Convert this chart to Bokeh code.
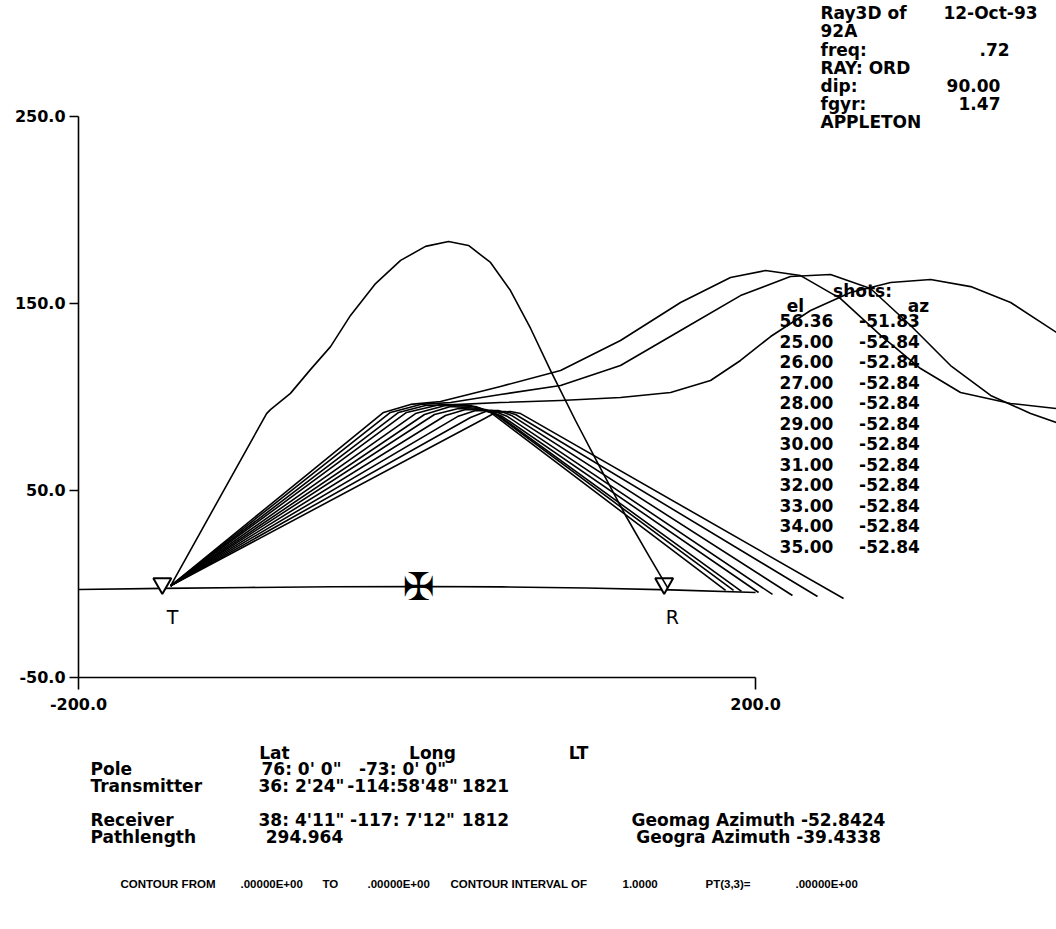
from bokeh.plotting import figure
from bokeh.models import LinearAxis, FixedTicker, PrintfTickFormatter, Range1d
from bokeh.core.properties import value
from bokeh.embed import file_html
from bokeh.resources import INLINE

# ---------------- data: ground range (km) and height (km) ----------------
ground_x = [-200, -150, -100, -50, 0, 50, 100, 150, 200]
ground_y = [-3.0, -2.4, -1.9, -1.5, -1.4, -1.6, -2.2, -3.2, -4.6]

# high-angle ray (el 56.36)
ray_5636_x = [-145.6, -88.9, -86.6, -74.8, -63.0, -51.1, -39.3, -24.5,
              -9.7, 5.0, 18.6, 30.4, 43.4, 55.2, 67.1, 78.9, 93.6, 108.4, 123.2, 136.8, 148.0]
ray_5636_y = [-1.0, 91.1, 93.2, 101.9, 114.6, 126.9, 143.6, 160.6,
              173.0, 180.5, 183.1, 181.0, 171.9, 156.9, 136.6, 114.1, 87.4, 61.8, 36.6, 15.3, -2.0]

# rays that return to ground (el 25 .. 32)
ray_25_x = [-145.6, 39.9, 46.4, 55.2, 61.2, 252.0]
ray_25_y = [-1.0, 88.5, 91.7, 92.2, 91.1, -7.8]
ray_26_x = [-145.6, 31.6, 40.5, 52.3, 58.2, 236.6]
ray_26_y = [-1.0, 89.0, 92.2, 92.2, 90.6, -6.7]
ray_27_x = [-145.6, 23.9, 34.6, 48.2, 55.8, 221.8]
ray_27_y = [-1.0, 89.5, 92.7, 92.7, 90.1, -6.2]
ray_28_x = [-145.6, 16.8, 28.7, 44.6, 53.5, 210.0]
ray_28_y = [-1.0, 90.1, 93.3, 92.7, 89.5, -5.6]
ray_29_x = [-145.6, 10.3, 24.5, 40.5, 50.5, 201.8]
ray_29_y = [-1.0, 90.6, 93.8, 93.3, 89.5, -4.6]
ray_30_x = [-145.6, 4.4, 19.8, 37.5, 48.2, 191.7]
ray_30_y = [-1.0, 90.6, 94.9, 93.8, 90.1, -4.0]
ray_31_x = [-145.6, -0.9, 16.8, 34.6, 45.8, 187.0]
ray_31_y = [-1.0, 91.1, 95.4, 94.9, 91.1, -3.5]
ray_32_x = [-145.6, -6.2, 13.9, 31.6, 43.4, 182.3]
ray_32_y = [-1.0, 91.7, 96.0, 95.4, 91.7, -3.5]

# long-hop rays (el 33 .. 35)
ray_33_x = [-145.6, -10.9, 5.0, 25.7, 49.3, 84.8, 120.2, 149.8, 173.4, 191.1, 208.9, 232.5,
            256.1, 279.8, 303.4, 327.1, 350.7, 377.8]
ray_33_y = [-1.0, 91.7, 95.4, 96.0, 97.0, 98.1, 99.7, 102.4, 108.8, 119.5, 132.3, 146.2,
            155.8, 161.2, 162.8, 159.0, 150.5, 134.5]
ray_34_x = [-145.6, -15.7, 2.1, 19.8, 49.3, 84.8, 120.2, 155.7, 191.1, 220.6, 244.3, 267.9,
            291.6, 315.2, 338.9, 362.5, 377.8]
ray_34_y = [-1.0, 91.7, 96.0, 97.0, 101.3, 106.1, 116.8, 135.5, 154.2, 164.4, 165.5, 158.0,
            138.2, 116.8, 100.8, 91.1, 86.3]
ray_35_x = [-145.6, -19.8, -3.8, 13.9, 49.3, 84.8, 120.2, 155.7, 185.2, 205.9, 226.6, 250.2,
            273.9, 297.5, 321.1, 350.7, 377.8]
ray_35_y = [-1.0, 91.7, 96.0, 97.6, 105.6, 114.1, 130.2, 150.5, 163.9, 167.6, 164.9, 152.6,
            132.9, 115.2, 102.4, 96.5, 93.8]

# stations: transmitter, receiver; and the pole-direction mark at mid path
station_x = [-150.5, 146.0]
station_y = [0.2, 0.2]
station_names = ["T", "R"]
station_label_x = [-144.5, 150.9]
mid_mark_x = [0.9]
mid_mark_y = [-1.4]

# shots table
shots_el = [56.36, 25.00, 26.00, 27.00, 28.00, 29.00, 30.00, 31.00, 32.00, 33.00, 34.00, 35.00]
shots_az = [-51.83, -52.84, -52.84, -52.84, -52.84, -52.84, -52.84, -52.84, -52.84, -52.84, -52.84, -52.84]

# axis ticks
x_ticks = [-200, 200]
y_ticks = [-50, 50, 150, 250]

# ---------------- figure ----------------
W, H = 1056, 929
X0, X1 = -246.1, 377.8
Y0, Y1 = -184.8, 312.0

p = figure(width=W, height=H, output_backend="svg", toolbar_location=None,
           x_range=Range1d(X0, X1), y_range=Range1d(Y0, Y1),
           x_axis_location=None, y_axis_location=None, min_border=0)
p.outline_line_color = None
p.xgrid.visible = False
p.ygrid.visible = False
p.background_fill_color = "white"
p.border_fill_color = "white"

FONT = "DejaVu Sans"
FSIZE = "17px"
FSTYLE = "bold"


def at(px, py):
    """canvas pixel position -> data coordinates (for annotation text)"""
    return X0 + px * (X1 - X0) / W, Y1 - py * (Y1 - Y0) / H


def label(txt, px, py, align="left", size=FSIZE, font=FONT, style=FSTYLE):
    x, y = at(px, py)
    p.text(x=[x], y=[y], text=[txt], text_align=align, text_baseline="middle",
           text_font=value(font), text_font_size=size, text_font_style=style,
           text_color="black")


# axes
yaxis = LinearAxis(fixed_location=-200, bounds=(-50, 250),
                   ticker=FixedTicker(ticks=y_ticks),
                   formatter=PrintfTickFormatter(format="%.1f"))
xaxis = LinearAxis(fixed_location=-50, bounds=(-200, 200),
                   ticker=FixedTicker(ticks=x_ticks),
                   formatter=PrintfTickFormatter(format="%.1f"))
for ax in (yaxis, xaxis):
    ax.axis_line_width = 1.6
    ax.axis_line_color = "black"
    ax.major_tick_line_width = 1.6
    ax.major_tick_in = 0
    ax.minor_tick_in = 0
    ax.minor_tick_out = 0
    ax.major_label_text_font = FONT
    ax.major_label_text_font_size = "16px"
    ax.major_label_text_font_style = FSTYLE
    ax.major_label_text_color = "black"
yaxis.major_tick_out = 9
yaxis.major_label_standoff = 4
xaxis.major_tick_out = 12
xaxis.major_label_standoff = 9
p.add_layout(yaxis, "left")
p.add_layout(xaxis, "below")

# ground
p.line(ground_x, ground_y, line_color="black", line_width=1.6)

# station markers
p.scatter(station_x, station_y, marker="inverted_triangle", size=18,
          fill_color="white", line_color="black", line_width=2)
for name, lx in zip(station_names, station_label_x):
    p.text(x=[lx], y=[-17.9], text=[name], text_align="center", text_baseline="middle",
           text_font=value(FONT), text_font_size="19px", text_color="black")
p.text(x=mid_mark_x, y=mid_mark_y, text=["\u2720"], text_align="center",
       text_baseline="middle", text_font=value(FONT), text_font_size="38px",
       text_color="black")

# rays
xs = [ray_5636_x, ray_25_x, ray_26_x, ray_27_x, ray_28_x, ray_29_x, ray_30_x, ray_31_x,
      ray_32_x, ray_33_x, ray_34_x, ray_35_x]
ys = [ray_5636_y, ray_25_y, ray_26_y, ray_27_y, ray_28_y, ray_29_y, ray_30_y, ray_31_y,
      ray_32_y, ray_33_y, ray_34_y, ray_35_y]
p.multi_line(xs, ys, line_color="black", line_width=1.6, line_join="round")

# header block, top right
label("Ray3D of", 820, 12)
label("12-Oct-93", 990, 12, align="center")
label("92A", 820, 30)
label("freq:", 820, 49)
label(".72", 994, 49, align="center")
label("RAY: ORD", 820, 67)
label("dip:", 820, 85)
label("90.00", 973, 85, align="center")
label("fgyr:", 820, 103)
label("1.47", 979, 103, align="center")
label("APPLETON", 820, 121)

# shots table
label("shots:", 862, 290, align="center")
label("el", 795, 305, align="center")
label("az", 918, 305, align="center")
row_px = [320 + 20.5 * i for i in range(len(shots_el))]
el_pos = [at(806, py) for py in row_px]
az_pos = [at(889, py) for py in row_px]
p.text(x=[q[0] for q in el_pos], y=[q[1] for q in el_pos], text=["%.2f" % v for v in shots_el],
       text_align="center", text_baseline="middle", text_font=value(FONT),
       text_font_size=FSIZE, text_font_style=FSTYLE, text_color="black")
p.text(x=[q[0] for q in az_pos], y=[q[1] for q in az_pos], text=["%.2f" % v for v in shots_az],
       text_align="center", text_baseline="middle", text_font=value(FONT),
       text_font_size=FSIZE, text_font_style=FSTYLE, text_color="black")

# geometry block, bottom
label("Lat", 274, 752, align="center")
label("Long", 432, 752, align="center")
label("LT", 578, 752, align="center")
label("Pole", 90, 768)
label("76: 0' 0\"", 301, 768, align="center")
label("-73: 0' 0\"", 402, 768, align="center")
label("Transmitter", 90, 785)
label("36: 2'24\"", 301, 785, align="center")
label("-114:58'48\"", 402, 785, align="center")
label("1821", 485, 785, align="center")
label("Receiver", 90, 819)
label("38: 4'11\"", 301, 819, align="center")
label("-117: 7'12\"", 402, 819, align="center")
label("1812", 485, 819, align="center")
label("Pathlength", 90, 836)
label("294.964", 304, 836, align="center")
label("Geomag Azimuth -52.8424", 758, 819, align="center")
label("Geogra Azimuth -39.4338", 758, 836, align="center")

# contour footer
foot = [("CONTOUR FROM", 120), (".00000E+00", 240), ("TO", 322), (".00000E+00", 367),
        ("CONTOUR INTERVAL OF", 450), ("1.0000", 622), ("PT(3,3)=", 705), (".00000E+00", 795)]
for txt, px in foot:
    label(txt, px, 883, size="11.5px", font="Liberation Sans", style="bold")

open("out.html", "w").write(file_html(p, INLINE))
